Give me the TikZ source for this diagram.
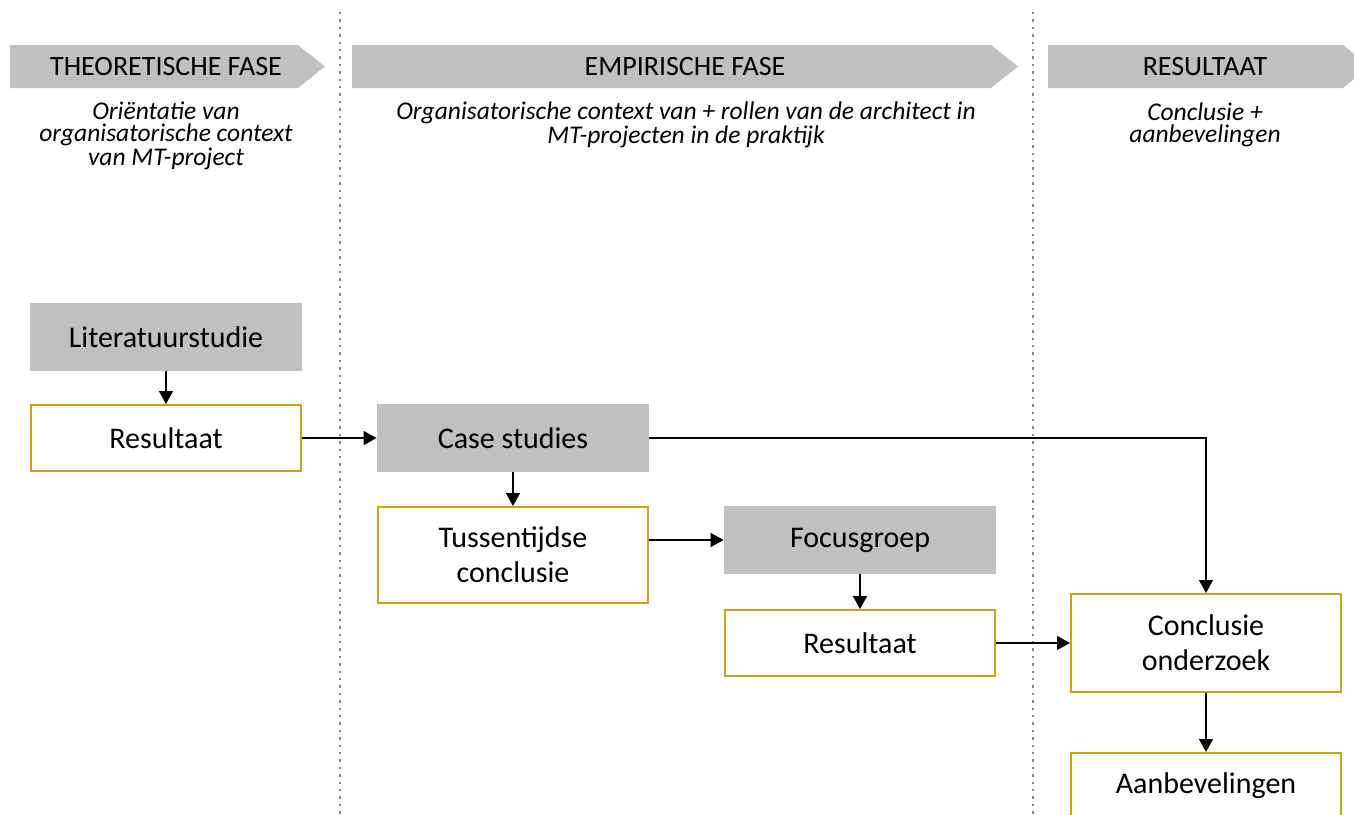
\documentclass[tikz,border=0pt]{standalone}
\usepackage{fontspec}
\setmainfont{Carlito}
\usetikzlibrary{arrows.meta}
\definecolor{vakgrijs}{RGB}{191,192,194}
\definecolor{goud}{RGB}{204,163,22}
\tikzset{
  grijsvak/.style={fill=vakgrijs, minimum width=136pt, minimum height=34pt, inner sep=0pt, align=center, font=\fontsize{15}{17.5}\selectfont},
  goudvak/.style={draw=goud, line width=1pt, fill=white, minimum width=135pt, minimum height=33pt, inner sep=0pt, align=center, font=\fontsize{15}{17.5}\selectfont},
  fasetekst/.style={font=\fontsize{14}{16}\selectfont},
  subtekst/.style={align=center, font=\fontsize{12.75}{10.75}\selectfont\itshape},
  pijl/.style={-{Triangle[length=6.5pt,width=7pt]}, line width=0.75pt},
  scheiding/.style={vakgrijs!70!black, line width=0.6pt, dash pattern=on 1.2pt off 2.5pt}
}
\begin{document}
\begin{tikzpicture}[x=0.5pt,y=-0.5pt]
\useasboundingbox (0,0) rectangle (1354,814);
% scheidingslijnen
\draw[scheiding] (340,12) -- (340,814);
\draw[scheiding] (1033,12) -- (1033,814);
% fasen
\fill[vakgrijs] (10,45) -- (298,45) -- (325,66.5) -- (298,88) -- (10,88) -- cycle;
\fill[vakgrijs] (352,45) -- (991,45) -- (1018,66.5) -- (991,88) -- (352,88) -- cycle;
\fill[vakgrijs] (1048,45) -- (1343,45) -- (1370,66.5) -- (1343,88) -- (1048,88) -- cycle;
\node[fasetekst] (fase1) at (166,67) {THEORETISCHE FASE};
\node[fasetekst] (fase2) at (685,67) {EMPIRISCHE FASE};
\node[fasetekst] (fase3) at (1205,67) {RESULTAAT};
\node[subtekst] (sub1) at (166,136) {Oriëntatie van\\organisatorische context\\van MT-project};
\node[subtekst] (sub2) at (686,125) {Organisatorische context van + rollen van de architect in\\MT-projecten in de praktijk};
\node[subtekst] (sub3) at (1205,125) {Conclusie +\\aanbevelingen};
% vakken
\node[grijsvak] (lit) at (166,337) {Literatuurstudie};
\node[goudvak] (res1) at (166,438) {Resultaat};
\node[grijsvak] (case) at (513,438) {Case studies};
\node[goudvak, minimum height=48pt] (tuss) at (513,555) {Tussentijdse\\conclusie};
\node[grijsvak] (focus) at (860,540) {Focusgroep};
\node[goudvak] (res2) at (860,643) {Resultaat};
\node[goudvak, minimum height=49pt] (concl) at (1206,643) {Conclusie\\onderzoek};
\node[goudvak] (aanb) at (1206,786) {Aanbevelingen};
% pijlen
\draw[pijl] (lit) -- (res1);
\draw[pijl] (res1) -- (case);
\draw[pijl] (case) -- (tuss);
\draw[pijl] (case.east) -| (concl.north);
\draw[pijl] (focus.west -| tuss.east) -- (focus.west);
\draw[pijl] (focus) -- (res2);
\draw[pijl] (res2) -- (concl);
\draw[pijl] (concl) -- (aanb);
\end{tikzpicture}
\end{document}
